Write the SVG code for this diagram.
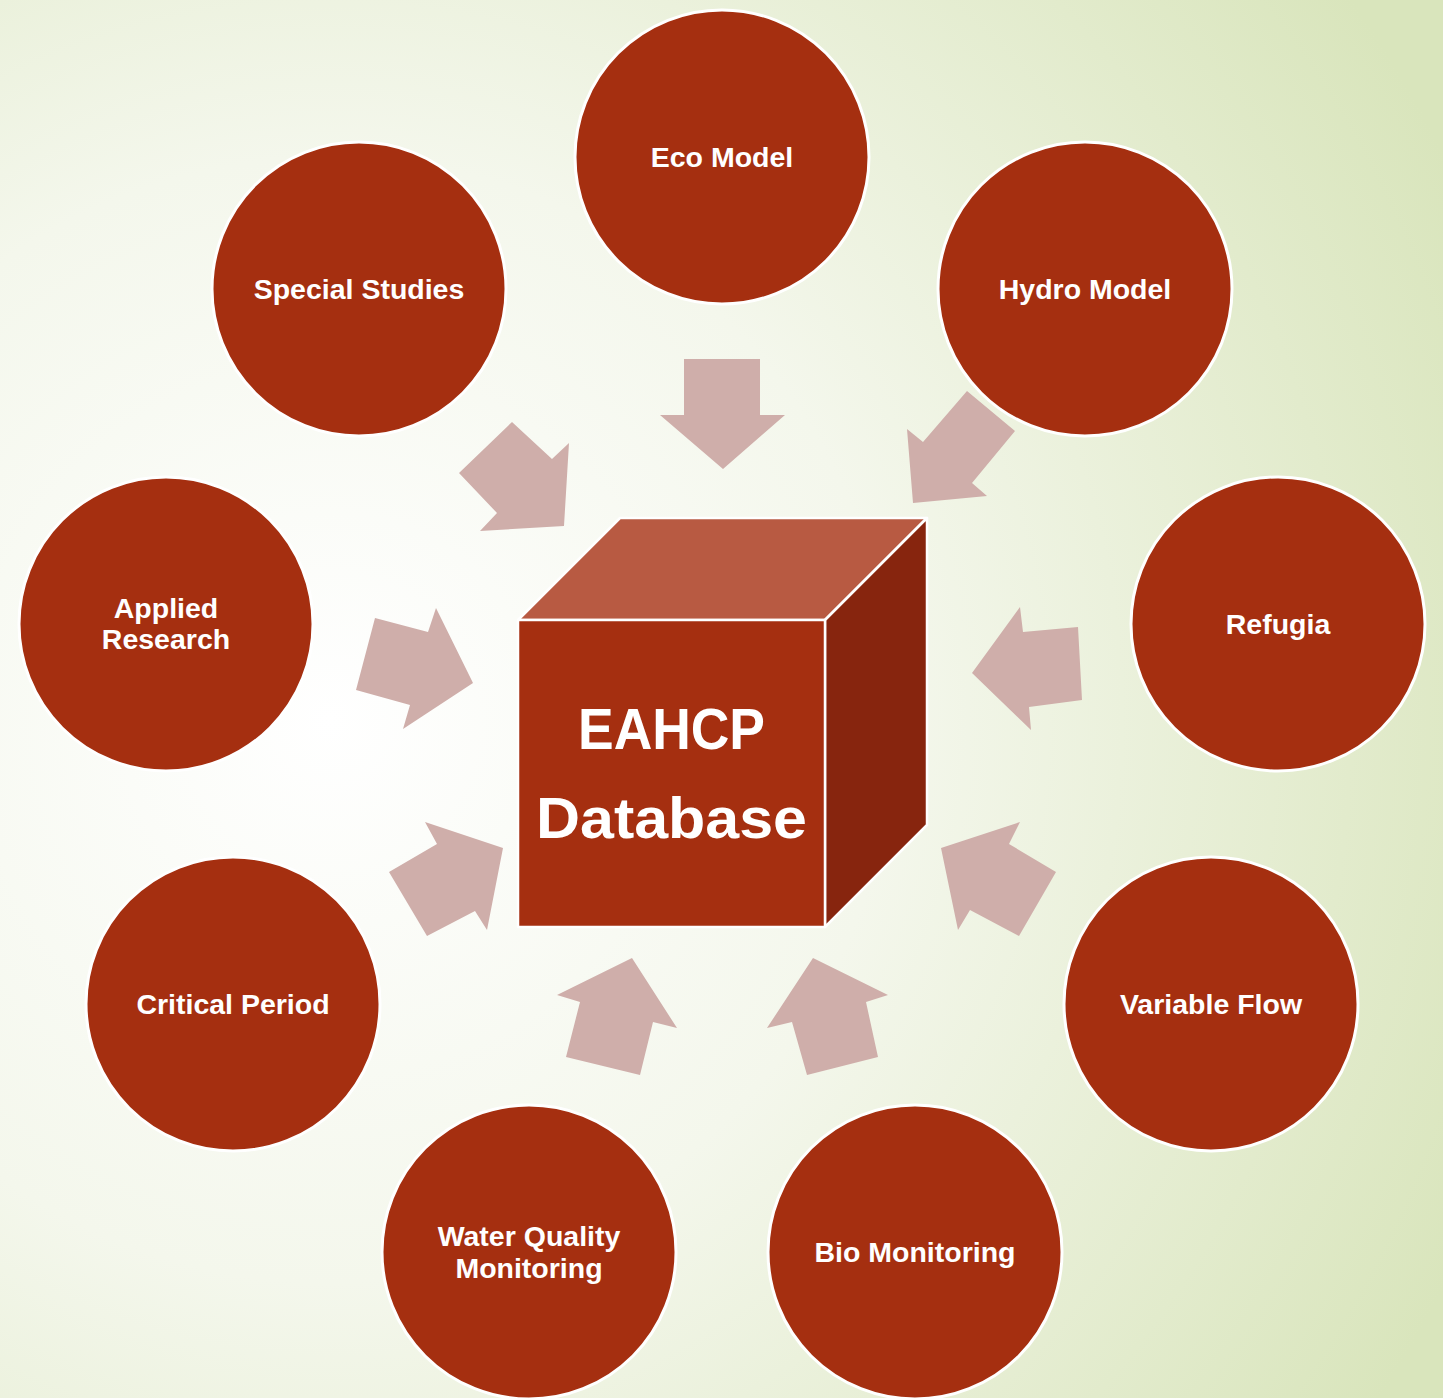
<svg xmlns="http://www.w3.org/2000/svg" width="1443" height="1398" viewBox="0 0 1443 1398">
<defs>
<radialGradient id="bg" cx="330" cy="720" r="1250" gradientUnits="userSpaceOnUse">
<stop offset="0" stop-color="#FFFFFF"/>
<stop offset="0.45" stop-color="#F4F7EC"/>
<stop offset="1" stop-color="#D9E5BC"/>
</radialGradient>
<style>
.node{fill:#A52F10;stroke:#FFFFFF;stroke-width:3}
.lbl{font-family:"Liberation Sans",Arial,sans-serif;font-weight:bold;font-size:28.5px;fill:#FFFFFF;text-anchor:middle}
.big{font-family:"Liberation Sans",Arial,sans-serif;font-weight:bold;font-size:57px;fill:#FFFFFF;text-anchor:middle}
.arrow{fill:#CFAEAA}
.cube{stroke:#FFFFFF;stroke-width:2.5;stroke-linejoin:round}
</style>
</defs>
<rect x="0" y="0" width="1443" height="1398" fill="url(#bg)"/>
<g id="connectors">
<polygon class="arrow" points="684,359 760,359 760,415 785,415 723,469 660,415 684,415"/>
<polygon class="arrow" points="512,422 552,459 569,443 564,526 480,531 497,513 459,473"/>
<polygon class="arrow" points="967,391 1015,431 972,483 987,496 913,503 907,429 923,442"/>
<polygon class="arrow" points="375,618 428,632 436,608 473,683 403,729 410,705 356,690"/>
<polygon class="arrow" points="1078,627 1023,632 1020,607 972,673 1031,730 1029,707 1082,700"/>
<polygon class="arrow" points="389,872 437,844 425,822 503,848 487,930 475,911 427,936"/>
<polygon class="arrow" points="566,1057 580,1002 557,995 632,958 677,1028 653,1022 640,1075"/>
<polygon class="arrow" points="807,1075 792,1022 767,1028 813,958 888,995 866,1002 878,1057"/>
<polygon class="arrow" points="1056,872 1009,844 1020,822 941,848 958,930 970,910 1019,936"/>
</g>
<g id="eahcp-database">
<polygon class="cube" fill="#B85A42" points="518,620 620,518 927,518 825,620"/>
<polygon class="cube" fill="#87250E" points="825,620 927,518 927,825 825,927"/>
<rect class="cube" fill="#A52F10" x="518" y="620" width="307" height="307"/>
<text class="big" x="671.5" y="749" textLength="187" lengthAdjust="spacingAndGlyphs">EAHCP</text>
<text class="big" x="671.5" y="838" textLength="271" lengthAdjust="spacingAndGlyphs">Database</text>
</g>
<g id="eco-model">
<circle class="node" cx="722" cy="157" r="147"/>
<text class="lbl" x="722" y="167">Eco Model</text>
</g>
<g id="special-studies">
<circle class="node" cx="359" cy="289" r="147"/>
<text class="lbl" x="359" y="299">Special Studies</text>
</g>
<g id="hydro-model">
<circle class="node" cx="1085" cy="289" r="147"/>
<text class="lbl" x="1085" y="299">Hydro Model</text>
</g>
<g id="applied-research">
<circle class="node" cx="166" cy="624" r="147"/>
<text class="lbl" x="166" y="618">Applied</text>
<text class="lbl" x="166" y="649">Research</text>
</g>
<g id="refugia">
<circle class="node" cx="1278" cy="624" r="147"/>
<text class="lbl" x="1278" y="634">Refugia</text>
</g>
<g id="critical-period">
<circle class="node" cx="233" cy="1004" r="147"/>
<text class="lbl" x="233" y="1014">Critical Period</text>
</g>
<g id="variable-flow">
<circle class="node" cx="1211" cy="1004" r="147"/>
<text class="lbl" x="1211" y="1014">Variable Flow</text>
</g>
<g id="water-quality-monitoring">
<circle class="node" cx="529" cy="1252" r="147"/>
<text class="lbl" x="529" y="1246">Water Quality</text>
<text class="lbl" x="529" y="1278">Monitoring</text>
</g>
<g id="bio-monitoring">
<circle class="node" cx="915" cy="1252" r="147"/>
<text class="lbl" x="915" y="1262">Bio Monitoring</text>
</g>
</svg>
